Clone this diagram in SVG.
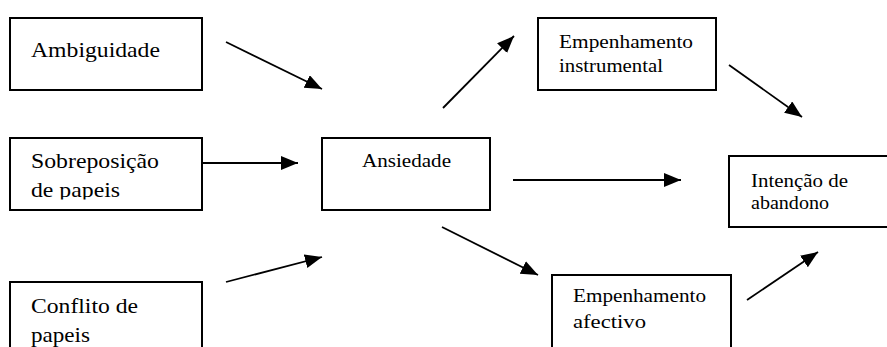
<svg xmlns="http://www.w3.org/2000/svg" width="887" height="347" viewBox="0 0 887 347">
<style>
.box{fill:#fff;stroke:#000;stroke-width:2}
text{fill:#000}
.edge{stroke:#000;stroke-width:1.8;fill:none;marker-end:url(#ah)}
</style>
<defs>
<marker id="ah" markerUnits="userSpaceOnUse" markerWidth="18" markerHeight="15" refX="17" refY="7" orient="auto">
<path d="M0,0 L17,7 L0,14 z" fill="#000"/>
</marker>
<clipPath id="c2"><rect x="10" y="138" width="192" height="61.5"/></clipPath>
</defs>
<rect width="887" height="347" fill="#fff"/>
<g id="ambiguidade" font-family="Liberation Serif, serif" font-size="22">
<rect class="box" x="10" y="18" width="192" height="72"/>
<text x="31" y="57" textLength="129" lengthAdjust="spacingAndGlyphs">Ambiguidade</text>
</g>
<g id="sobreposicao" font-family="Liberation Serif, serif" font-size="22">
<rect class="box" x="10" y="138" width="192" height="72"/>
<g clip-path="url(#c2)">
<text x="31" y="168" textLength="128" lengthAdjust="spacingAndGlyphs">Sobreposição</text>
<text x="31" y="197" textLength="89" lengthAdjust="spacingAndGlyphs">de papeis</text>
</g>
</g>
<g id="conflito" font-family="Liberation Serif, serif" font-size="22">
<rect class="box" x="10" y="282" width="192" height="80"/>
<text x="31" y="313" textLength="107" lengthAdjust="spacingAndGlyphs">Conflito de</text>
<text x="31" y="342" textLength="59" lengthAdjust="spacingAndGlyphs">papeis</text>
</g>
<g id="ansiedade" font-family="Liberation Serif, serif" font-size="19.5">
<rect class="box" x="322" y="138" width="168" height="72"/>
<text x="362" y="167" textLength="89" lengthAdjust="spacingAndGlyphs">Ansiedade</text>
</g>
<g id="emp-instrumental" font-family="Liberation Serif, serif" font-size="19.5">
<rect class="box" x="538" y="18" width="178" height="72"/>
<text x="559" y="48" textLength="134" lengthAdjust="spacingAndGlyphs">Empenhamento</text>
<text x="559" y="72" textLength="104" lengthAdjust="spacingAndGlyphs">instrumental</text>
</g>
<g id="intencao" font-family="Liberation Serif, serif" font-size="19.5">
<rect class="box" x="729" y="156" width="170" height="71"/>
<text x="751" y="187" textLength="97" lengthAdjust="spacingAndGlyphs">Intenção de</text>
<text x="751" y="209" textLength="78" lengthAdjust="spacingAndGlyphs">abandono</text>
</g>
<g id="emp-afectivo" font-family="Liberation Serif, serif" font-size="19.5">
<rect class="box" x="552" y="275" width="179" height="80"/>
<text x="573" y="302" textLength="133" lengthAdjust="spacingAndGlyphs">Empenhamento</text>
<text x="573" y="328" textLength="73" lengthAdjust="spacingAndGlyphs">afectivo</text>
</g>
<g id="connectors">
<line class="edge" x1="226" y1="42" x2="322" y2="89"/>
<line class="edge" x1="202" y1="163" x2="298" y2="163"/>
<line class="edge" x1="226" y1="282" x2="322" y2="257"/>
<line class="edge" x1="443" y1="108" x2="514" y2="36"/>
<line class="edge" x1="513" y1="180" x2="681" y2="180"/>
<line class="edge" x1="442" y1="227" x2="538" y2="275"/>
<line class="edge" x1="729" y1="65" x2="802" y2="117"/>
<line class="edge" x1="747" y1="300" x2="818" y2="252"/>
</g>
</svg>
